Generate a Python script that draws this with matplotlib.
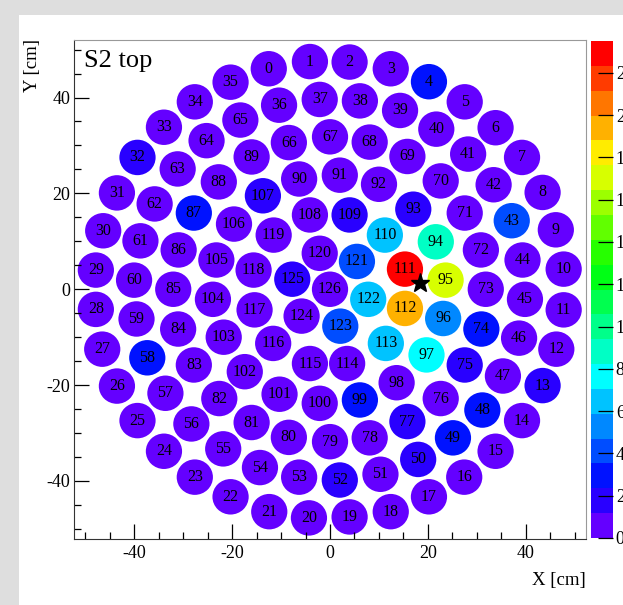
import numpy as np
import matplotlib
matplotlib.use("Agg")
import matplotlib.pyplot as plt
from matplotlib.patches import Circle, Rectangle
from matplotlib.colors import ListedColormap, BoundaryNorm, hsv_to_rgb
from matplotlib.cm import ScalarMappable

plt.rcParams['font.family'] = ['Liberation Serif', 'DejaVu Serif']
plt.rcParams['axes.unicode_minus'] = False

# PMT positions [cm], index = PMT number
pmt_x = [-12.5, -4.1, 4.0, 12.4, 20.2, 27.5, 33.8, 39.2, 43.4, 46.1, 47.7, 47.7,
         46.2, 43.4, 39.2, 33.8, 27.4, 20.2, 12.4, 4.0, -4.3, -12.4, -20.3, -27.6,
         -33.9, -39.3, -43.5, -46.5, -47.8, -47.8, -46.3, -43.5, -39.3, -33.9, -27.6, -20.3,
         -10.4, -2.1, 6.1, 14.3, 21.7, 28.2, 33.4, 37.1, 39.3, 39.8, 38.6, 35.3,
         31.1, 25.1, 18.0, 10.3, 2.0, -6.3, -14.3, -21.8, -28.3, -33.6, -37.3, -39.5,
         -40.0, -38.7, -35.8, -31.1, -25.2, -18.3,
         -8.4, 0.0, 8.1, 15.8, 22.6, 27.5, 30.8, 31.8, 30.9, 27.5, 22.6, 15.8,
         8.1, 0.0, -8.4, -16.0, -22.6, -27.8, -31.0, -32.0, -30.9, -27.8, -22.7, -16.0,
         -6.3, 2.0, 10.0, 17.0, 21.6, 23.6, 23.1, 19.7, 13.6, 6.1, -2.1, -10.3,
         -17.4, -21.7, -23.9, -23.2, -19.6, -13.7,
         -4.1, 4.0, 11.2, 15.3, 15.3, 11.4, 3.5, -4.1, -11.6, -15.4, -15.6, -11.5,
         -2.1, 5.5, 7.8, 2.1, -5.8, -7.7, 0.0]
pmt_y = [46.0, 47.5, 47.4, 46.0, 43.3, 39.1, 33.7, 27.5, 20.2, 12.4, 4.2, -4.3,
         -12.5, -20.1, -27.4, -33.8, -39.2, -43.3, -46.4, -47.5, -47.7, -46.4, -43.3, -39.2,
         -33.8, -27.4, -20.2, -12.5, -4.2, 4.0, 12.2, 20.1, 27.5, 33.8, 39.1, 43.2,
         38.4, 39.6, 39.3, 37.3, 33.4, 28.2, 21.8, 14.3, 6.1, -2.1, -10.2, -18.1,
         -25.2, -31.0, -35.5, -38.6, -39.8, -39.2, -37.2, -33.3, -28.1, -21.7, -14.3, -6.2,
         1.9, 10.1, 17.8, 25.1, 31.0, 35.3,
         30.6, 31.8, 30.7, 27.7, 22.6, 15.9, 8.2, 0.0, -8.3, -15.8, -22.8, -27.6,
         -31.0, -31.8, -30.9, -27.8, -22.8, -15.8, -8.3, 0.0, 8.2, 15.9, 22.4, 27.6,
         23.0, 23.8, 21.9, 16.7, 9.9, 1.9, -6.1, -13.7, -19.5, -23.1, -23.8, -21.9,
         -17.2, -10.0, -2.1, 6.1, 13.6, 19.5,
         15.5, 15.5, 11.3, 4.2, -4.0, -11.3, -15.5, -15.5, -11.3, -4.3, 4.0, 11.3,
         7.5, 5.8, -2.1, -7.7, -5.6, 2.1, 0.0]

# hits per PMT (estimated from colours)
hits = [0.7, 0.6, 0.8, 0.9, 2.9, 0.7, 0.6, 0.5, 0.6, 0.7, 0.6, 0.8,
        0.9, 1.7, 0.8, 0.7, 0.6, 0.8, 0.7, 0.6, 0.5, 0.6, 0.5, 0.6,
        0.7, 0.6, 0.7, 0.6, 0.7, 0.6, 0.7, 0.8, 2.0, 0.7, 0.6, 0.7,
        0.8, 0.7, 0.8, 0.9, 0.8, 0.9, 0.8, 4.3, 0.9, 1.0, 0.9, 1.0,
        2.6, 2.6, 1.9, 0.9, 1.8, 0.8, 0.7, 0.8, 0.7, 0.8, 2.8, 0.7,
        0.8, 0.7, 0.8, 0.7, 0.8, 0.7,
        0.8, 0.9, 0.8, 0.9, 1.0, 1.0, 1.1, 1.0, 2.9, 1.8, 1.0, 1.9,
        0.9, 0.8, 0.9, 0.8, 0.7, 0.8, 0.7, 0.8, 0.7, 3.0, 0.8, 0.8,
        0.9, 0.9, 1.0, 1.9, 8.8, 17.0, 5.3, 7.6, 1.1, 2.7, 0.9, 0.8,
        0.8, 0.9, 0.8, 0.9, 0.9, 1.9,
        1.0, 1.9, 6.5, 23.5, 19.4, 6.3, 1.1, 0.9, 0.9, 0.8, 0.9, 0.9,
        1.0, 4.0, 6.2, 3.8, 1.0, 2.1, 1.1]

star_x, star_y = 18.4, 1.3
cb_ticks = [0, 2, 4, 6, 8, 10, 12, 14, 16, 18, 20, 22]

W, H = 623, 605
fig = plt.figure(figsize=(W / 100, H / 100), dpi=100, facecolor='#dedede')
fig.patches.append(Rectangle((19 / W, 0), 1, (H - 15) / H, transform=fig.transFigure,
                             facecolor='white', edgecolor='none', zorder=-5))

ax = fig.add_axes([74.3 / W, (H - 538.5) / H, 511.4 / W, 498.5 / H])
ax.set_xlim(-52.2, 52.2)
ax.set_ylim(-52.0, 52.0)

# ROOT-like rainbow palette, 20 contours
n_lev = 20
vmax = max(hits)
hues = 0.732 * (1 - np.arange(n_lev) / (n_lev - 1))
cmap = ListedColormap(hsv_to_rgb(np.column_stack([hues, np.ones(n_lev), np.ones(n_lev)])))
norm = BoundaryNorm(np.linspace(0, vmax, n_lev + 1), n_lev)

for i, (x, y, h) in enumerate(zip(pmt_x, pmt_y, hits)):
    ax.add_patch(Circle((x, y), 3.7, facecolor=cmap(norm(h)), edgecolor='none'))
    ax.text(x, y, str(i), ha='center', va='center', fontsize=11.5, color='black')

ax.plot(star_x, star_y, marker='*', color='black', markersize=14, zorder=5)

ax.set_xticks([-40, -20, 0, 20, 40])
ax.set_yticks([-40, -20, 0, 20, 40])
ax.set_xticks(np.arange(-50, 51, 5), minor=True)
ax.set_yticks(np.arange(-50, 51, 5), minor=True)
ax.tick_params(which='both', direction='in', top=False, right=False, labelsize=13)
ax.tick_params(which='major', length=10.5, width=0.9)
ax.tick_params(which='minor', length=5, width=0.9)
ax.tick_params(axis='x', pad=5)
ax.tick_params(axis='y', pad=3)
for s in ['left', 'bottom']:
    ax.spines[s].set_color('#333333')
for s in ['top', 'right']:
    ax.spines[s].set_color('#999999')

fig.text(84 / W, 1 - 66.7 / H, 'S2 top', fontsize=19, ha='left', va='baseline')
fig.text(33 / W, 1 - 39.5 / H, 'Y [cm]', fontsize=13.5, rotation=90, ha='center', va='top')
fig.text(585.7 / W, 1 - 580 / H, 'X [cm]', fontsize=13.5, ha='right', va='center')

cax = fig.add_axes([591 / W, (H - 538) / H, 22 / W, 497 / H])
cb = fig.colorbar(ScalarMappable(norm=norm, cmap=cmap), cax=cax, ticks=cb_ticks)
cb.outline.set_visible(False)
cb.ax.tick_params(direction='in', length=11, width=0.9, labelsize=13, pad=2)
cb.ax.minorticks_off()

fig.savefig('out.png', dpi=100, facecolor=fig.get_facecolor())
